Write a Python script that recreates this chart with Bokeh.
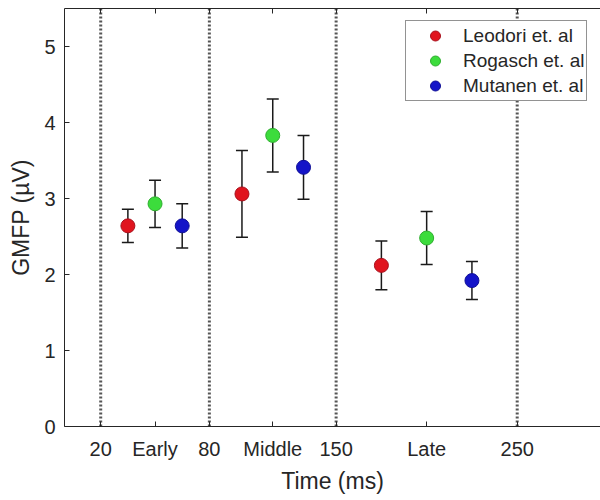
from bokeh.plotting import figure
from bokeh.models import (ColumnDataSource, Whisker, Span, FixedTicker, LinearAxis,
                          Range1d, Legend, LegendItem, TeeHead)
from bokeh.embed import file_html
from bokeh.resources import INLINE

# ---- data ----
study_names = ["Leodori et. al", "Rogasch et. al", "Mutanen et. al"]

leodori_time = [35, 98, 175]
leodori_gmfp = [2.64, 3.06, 2.12]
leodori_err = [0.22, 0.57, 0.32]

rogasch_time = [50, 115, 200]
rogasch_gmfp = [2.93, 3.83, 2.48]
rogasch_err = [0.31, 0.48, 0.35]

mutanen_time = [65, 132, 225]
mutanen_gmfp = [2.64, 3.41, 1.92]
mutanen_err = [0.29, 0.42, 0.25]

tick_values = [20, 50, 80, 115, 150, 200, 250]
tick_labels = ["20", "Early", "80", "Middle", "150", "Late", "250"]
window_edges = [20, 80, 150, 250]
y_ticks = [0, 1, 2, 3, 4, 5]

# ---- styles ----
FONT = "Liberation Sans"
TXT = "#262626"
fills = ["#e0141e", "#3cdc3c", "#1414c8"]
edges = ["#a8101c", "#2fae2f", "#0f0f96"]

p = figure(width=600, height=500, output_backend="svg", toolbar_location=None,
           x_range=Range1d(0, 296), y_range=Range1d(0, 5.5),
           min_border_left=64, min_border_right=0, min_border_top=8, min_border_bottom=74,
           background_fill_color="white", border_fill_color="white")
p.outline_line_color = None
p.grid.visible = False

# vertical dotted window boundaries
for e in window_edges:
    p.add_layout(Span(location=e, dimension="height", line_color="#555555",
                      line_width=3, line_dash="2 2", level="underlay"))

series = [
    (leodori_time, leodori_gmfp, leodori_err),
    (rogasch_time, rogasch_gmfp, rogasch_err),
    (mutanen_time, mutanen_gmfp, mutanen_err),
]

items = []
for (t, g, err), name, fc, ec in zip(series, study_names, fills, edges):
    src = ColumnDataSource(dict(
        t=t, g=g,
        lo=[a - b for a, b in zip(g, err)],
        hi=[a + b for a, b in zip(g, err)],
    ))
    w = Whisker(source=src, base="t", upper="hi", lower="lo",
                line_color="#1a1a1a", line_width=1.5, level="underlay",
                upper_head=TeeHead(size=12, line_color="#1a1a1a", line_width=1.5),
                lower_head=TeeHead(size=12, line_color="#1a1a1a", line_width=1.5))
    p.add_layout(w)
    r = p.scatter("t", "g", source=src, size=14, fill_color=fc, line_color=ec,
                  line_width=1)
    items.append(LegendItem(label=name, renderers=[r]))

# axes styling
for ax in [p.xaxis[0], p.yaxis[0]]:
    ax.axis_line_color = TXT
    ax.major_tick_line_color = TXT
    ax.major_tick_in = 5
    ax.major_tick_out = 0
    ax.minor_tick_line_color = None
    ax.major_label_text_font = FONT
    ax.major_label_text_font_size = "20px"
    ax.major_label_text_color = TXT
    ax.axis_label_text_font = FONT
    ax.axis_label_text_font_size = "23px"
    ax.axis_label_text_font_style = "normal"
    ax.axis_label_text_color = TXT

p.xaxis[0].ticker = FixedTicker(ticks=tick_values)
p.xaxis[0].major_label_overrides = {v: s for v, s in zip(tick_values, tick_labels)}
p.xaxis[0].axis_label = "Time (ms)"
p.xaxis[0].major_label_standoff = 11
p.xaxis[0].axis_label_standoff = 5

p.yaxis[0].ticker = FixedTicker(ticks=y_ticks)
p.yaxis[0].axis_label = "GMFP (µV)"
p.yaxis[0].major_label_standoff = 9
p.yaxis[0].axis_label_standoff = 7

# top box edge with inward ticks (MATLAB box on)
top = LinearAxis(ticker=FixedTicker(ticks=tick_values))
top.axis_line_color = TXT
top.major_tick_line_color = TXT
top.major_tick_in = 5
top.major_tick_out = 0
top.minor_tick_line_color = None
top.major_label_text_font_size = "0px"
top.major_label_standoff = 0
top.major_label_text_color = None
p.add_layout(top, "above")

legend = Legend(items=items, location=(341, 325))
legend.label_text_font = FONT
legend.label_text_font_size = "19px"
legend.label_text_color = TXT
legend.label_height = 25
legend.glyph_height = 25
legend.glyph_width = 54
legend.spacing = 0
legend.padding = 2
legend.margin = 0
legend.label_standoff = 1
legend.border_line_color = TXT
legend.border_line_width = 1
legend.background_fill_color = "white"
legend.background_fill_alpha = 1.0
p.add_layout(legend)

open("out.html", "w").write(file_html(p, INLINE))
